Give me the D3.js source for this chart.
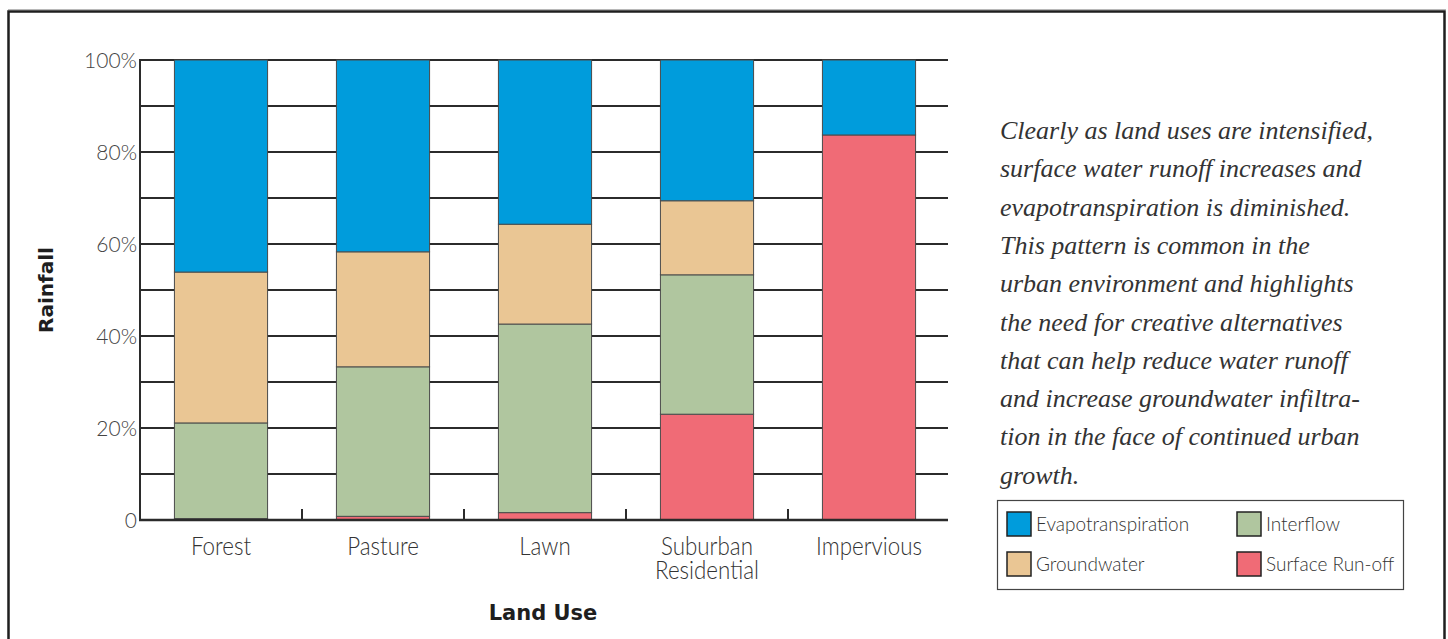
<!DOCTYPE html>
<html>
<head>
<meta charset="utf-8">
<script src="https://cdn.jsdelivr.net/npm/d3@7/dist/d3.min.js"></script>
<style>
  body { margin: 0; background: #fff; }
  svg { display: block; }
</style>
</head>
<body>
<div id="chart"></div>
<script>
// land use categories, bottom-to-top stack order
var categories = ["Forest", "Pasture", "Lawn", "Suburban Residential", "Impervious"];
var categoryLines = [["Forest"], ["Pasture"], ["Lawn"], ["Suburban", "Residential"], ["Impervious"]];

// share of rainfall (%)
var runoff = [0.3, 0.8, 1.6, 23.0, 83.7];
var interflow = [20.8, 32.5, 41.0, 30.3, 0];
var groundwater = [32.8, 25.0, 21.7, 16.1, 0];
var evapotranspiration = [46.1, 41.7, 35.7, 30.6, 16.3];

var seriesKeys = ["runoff", "interflow", "groundwater", "evapotranspiration"];
var seriesLabels = {
  runoff: "Surface Run-off",
  interflow: "Interflow",
  groundwater: "Groundwater",
  evapotranspiration: "Evapotranspiration"
};
var seriesColors = {
  runoff: "#f06b76",
  interflow: "#b0c69f",
  groundwater: "#eac694",
  evapotranspiration: "#009cdc"
};
var legendOrder = [["evapotranspiration", "interflow"], ["groundwater", "runoff"]];

var gridValues = [10, 20, 30, 40, 50, 60, 70, 80, 90, 100];
var yTickValues = [0, 20, 40, 60, 80, 100];
var yTickLabels = ["0", "20%", "40%", "60%", "80%", "100%"];

var noteLines = [
  "Clearly as land uses are intensified,",
  "surface water runoff increases and",
  "evapotranspiration is diminished.",
  "This pattern is common in the",
  "urban environment and highlights",
  "the need for creative alternatives",
  "that can help reduce water runoff",
  "and increase groundwater infiltra-",
  "tion in the face of continued urban",
  "growth."
];

var width = 1448, height = 639;
var lightFont = "Lato, 'Open Sans', sans-serif";
var boldFont = "'DejaVu Sans', sans-serif";
var ink = "#2b2b2b";

var svg = d3.select("#chart").append("svg")
  .attr("width", width)
  .attr("height", height);

// frame
svg.append("line")
  .attr("x1", 8).attr("x2", 1446).attr("y1", 9.5).attr("y2", 9.5)
  .attr("stroke", "#b8b8b8").attr("stroke-width", 1);
svg.append("rect")
  .attr("x", 8.5).attr("y", 11.5)
  .attr("width", 1436).attr("height", 700)
  .attr("fill", "none")
  .attr("stroke", "#1e1e1e")
  .attr("stroke-width", 2.5);

var x = d3.scaleBand()
  .domain(categories)
  .range([140, 950])
  .paddingInner(0.425)
  .paddingOuter(0.2125);

var y = d3.scaleLinear().domain([0, 100]).range([520, 60]);

var rows = categories.map(function (c, i) {
  return {
    category: c,
    runoff: runoff[i],
    interflow: interflow[i],
    groundwater: groundwater[i],
    evapotranspiration: evapotranspiration[i]
  };
});

// grid lines behind bars
svg.append("g")
  .selectAll("line")
  .data(gridValues)
  .join("line")
  .attr("x1", 140).attr("x2", 948)
  .attr("y1", function (d) { return y(d); })
  .attr("y2", function (d) { return y(d); })
  .attr("stroke", ink)
  .attr("stroke-width", 2);

// stacked bars
var stacked = d3.stack().keys(seriesKeys)(rows);

svg.append("g")
  .selectAll("g")
  .data(stacked)
  .join("g")
  .attr("fill", function (s) { return seriesColors[s.key]; })
  .selectAll("rect")
  .data(function (s) { return s.filter(function (d) { return d[1] - d[0] > 0; }); })
  .join("rect")
  .attr("x", function (d) { return x(d.data.category); })
  .attr("width", x.bandwidth())
  .attr("y", function (d) { return y(d[1]); })
  .attr("height", function (d) { return y(d[0]) - y(d[1]); })
  .attr("stroke", "#4a4a4a")
  .attr("stroke-width", 1);

// axes lines
svg.append("line")
  .attr("x1", 140).attr("x2", 140).attr("y1", 59).attr("y2", 521)
  .attr("stroke", ink).attr("stroke-width", 2);
svg.append("line")
  .attr("x1", 139).attr("x2", 948).attr("y1", 520).attr("y2", 520)
  .attr("stroke", ink).attr("stroke-width", 2.5);

// x tick marks between categories
var step = x.step();
svg.append("g")
  .selectAll("line")
  .data(categories.slice(1))
  .join("line")
  .attr("x1", function (d) { return x(d) - x.paddingInner() * step / 2; })
  .attr("x2", function (d) { return x(d) - x.paddingInner() * step / 2; })
  .attr("y1", 509).attr("y2", 520)
  .attr("stroke", ink).attr("stroke-width", 2);

// y tick labels
svg.append("g")
  .selectAll("text")
  .data(yTickValues)
  .join("text")
  .attr("x", 137)
  .attr("y", function (d) { return y(d) + 7.5; })
  .attr("text-anchor", "end")
  .attr("font-family", lightFont)
  .attr("font-weight", 300)
  .attr("font-size", 21)
  .attr("fill", "#444")
  .text(function (d, i) { return yTickLabels[i]; });

// category labels
var catLabel = svg.append("g")
  .selectAll("text")
  .data(categories)
  .join("text")
  .attr("transform", function (d) {
    return "translate(" + (x(d) + x.bandwidth() / 2) + ",555) scale(0.86,1)";
  })
  .attr("text-anchor", "middle")
  .attr("font-family", lightFont)
  .attr("font-weight", 300)
  .attr("font-size", 26)
  .attr("fill", "#333");

catLabel.selectAll("tspan")
  .data(function (d, i) { return categoryLines[i]; })
  .join("tspan")
  .attr("x", 0)
  .attr("dy", function (d, i) { return i === 0 ? 0 : 24; })
  .text(function (d) { return d; });

// axis titles
svg.append("text")
  .attr("transform", "translate(53,290) rotate(-90)")
  .attr("text-anchor", "middle")
  .attr("font-family", boldFont)
  .attr("font-weight", 700)
  .attr("font-size", 20)
  .attr("fill", "#1e1e1e")
  .text("Rainfall");

svg.append("text")
  .attr("x", 543).attr("y", 620)
  .attr("text-anchor", "middle")
  .attr("font-family", boldFont)
  .attr("font-weight", 700)
  .attr("font-size", 21)
  .attr("fill", "#1e1e1e")
  .text("Land Use");

// note text
svg.append("g")
  .selectAll("text")
  .data(noteLines)
  .join("text")
  .attr("x", 1000)
  .attr("y", function (d, i) { return 139 + i * 38.3; })
  .attr("font-family", "'Liberation Serif', serif")
  .attr("font-style", "italic")
  .attr("font-size", 26)
  .attr("fill", "#333")
  .text(function (d) { return d; });

// legend
var legend = svg.append("g");
legend.append("rect")
  .attr("x", 997.5).attr("y", 500.5)
  .attr("width", 406).attr("height", 89)
  .attr("fill", "#fff")
  .attr("stroke", "#444")
  .attr("stroke-width", 1.2);

var legendItems = [];
legendOrder.forEach(function (row, r) {
  row.forEach(function (key, c) {
    legendItems.push({key: key, row: r, col: c});
  });
});

var item = legend.selectAll("g.item")
  .data(legendItems)
  .join("g")
  .attr("class", "item")
  .attr("transform", function (d) {
    return "translate(" + (d.col === 0 ? 1007 : 1237) + "," + (d.row === 0 ? 512 : 552) + ")";
  });

item.append("rect")
  .attr("width", 24).attr("height", 24)
  .attr("fill", function (d) { return seriesColors[d.key]; })
  .attr("stroke", "#222")
  .attr("stroke-width", 1.5);

item.append("text")
  .attr("x", 29)
  .attr("y", 19)
  .attr("font-family", lightFont)
  .attr("font-weight", 300)
  .attr("font-size", 19)
  .attr("fill", "#333")
  .text(function (d) { return seriesLabels[d.key]; });
</script>
</body>
</html>
